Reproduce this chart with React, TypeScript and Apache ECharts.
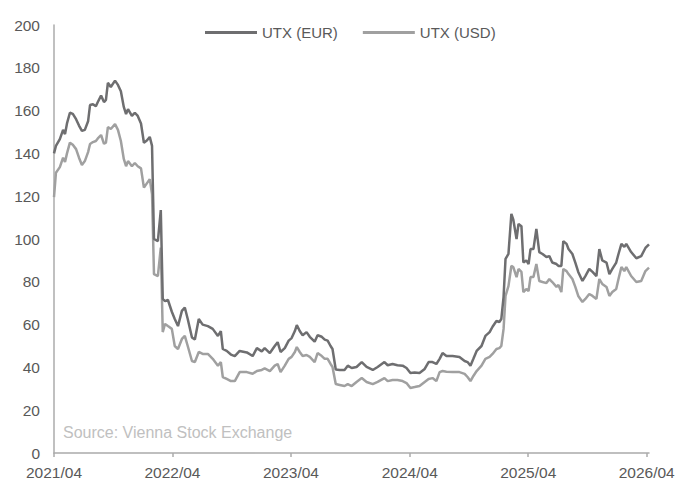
import React, { useEffect, useRef } from "react";
import * as echarts from "echarts";

const dates: string[] = [
  "2021-04-01","2021-04-07","2021-04-19","2021-04-29","2021-05-05","2021-05-11","2021-05-20","2021-05-29",
  "2021-06-08","2021-06-17","2021-06-26","2021-07-05","2021-07-15","2021-07-21","2021-07-30","2021-08-08",
  "2021-08-14","2021-08-24","2021-09-02","2021-09-08","2021-09-14","2021-09-23","2021-10-06","2021-10-15",
  "2021-10-24","2021-11-02","2021-11-09","2021-11-15","2021-11-27","2021-12-06","2021-12-15","2021-12-25",
  "2022-01-03","2022-01-12","2022-01-21","2022-01-28","2022-02-03","2022-02-15","2022-02-24","2022-03-02",
  "2022-03-09","2022-03-18","2022-03-30","2022-04-08","2022-04-18","2022-04-30","2022-05-09","2022-05-18",
  "2022-05-31","2022-06-09","2022-06-21","2022-07-03","2022-07-19","2022-08-03","2022-08-19","2022-08-28",
  "2022-09-03","2022-09-15","2022-09-28","2022-10-10","2022-10-25","2022-11-16","2022-12-04","2022-12-17",
  "2023-01-01","2023-01-10","2023-01-26","2023-02-10","2023-02-19","2023-02-28","2023-03-13","2023-03-25",
  "2023-04-03","2023-04-13","2023-04-19","2023-04-28","2023-05-07","2023-05-19","2023-05-29","2023-06-13",
  "2023-06-22","2023-07-05","2023-07-14","2023-07-23","2023-08-01","2023-08-07","2023-08-17","2023-08-29",
  "2023-09-13","2023-09-23","2023-10-05","2023-10-20","2023-11-05","2023-11-20","2023-12-09","2023-12-24",
  "2024-01-14","2024-01-24","2024-02-08","2024-02-23","2024-03-10","2024-03-22","2024-04-03","2024-04-16",
  "2024-05-01","2024-05-17","2024-05-29","2024-06-10","2024-06-22","2024-07-02","2024-07-11","2024-07-23",
  "2024-08-11","2024-09-01","2024-09-17","2024-09-26","2024-10-05","2024-10-14","2024-10-24","2024-11-08",
  "2024-11-20","2024-12-03","2024-12-12","2024-12-24","2025-01-02","2025-01-08","2025-01-15","2025-01-21",
  "2025-01-30","2025-02-08","2025-02-14","2025-02-24","2025-03-02","2025-03-11","2025-03-17","2025-03-26",
  "2025-04-02","2025-04-08","2025-04-17","2025-04-26","2025-05-05","2025-05-15","2025-05-27","2025-06-05",
  "2025-06-14","2025-06-27","2025-07-03","2025-07-12","2025-07-18","2025-07-28","2025-08-03","2025-08-15",
  "2025-08-24","2025-09-02","2025-09-15","2025-09-24","2025-10-06","2025-10-16","2025-10-28","2025-11-06",
  "2025-11-15","2025-11-28","2025-12-07","2025-12-16","2025-12-28","2026-01-04","2026-01-13","2026-01-22",
  "2026-01-28","2026-02-12","2026-02-28","2026-03-15","2026-03-28","2026-04-08"
];

const utxEur: number[] = [
  140, 143.5, 146.7, 151, 149, 154, 159, 158.5,
  156, 153, 150.5, 151, 155, 162.6, 163, 162,
  164, 167, 164, 165, 173, 171, 174, 172,
  169, 161.7, 158.4, 160.7, 157.5, 159, 157.5, 154,
  145, 146, 147.7, 143.5, 100, 99, 113.5, 72,
  71, 71.5, 66, 62.6, 59.3, 66.4, 68, 62.6,
  54, 53, 62.6, 60, 59.3, 58, 54.7, 57,
  48.6, 47.7, 46, 45.3, 47.7, 47, 45.3, 49,
  47.5, 49, 46.7, 50, 51.8, 47.2, 49, 52.5,
  53.7, 57, 59.8, 57, 55, 56.5, 54.3, 52,
  55, 54.3, 53, 52.5, 50, 48.6, 39, 38.8,
  38.8, 40.8, 39.7, 40.2, 42.5, 40.2, 38.8, 40.2,
  42.5, 41, 41.6, 41, 40.8, 39.7, 37.4, 37.6,
  37.4, 39.3, 42.5, 42.5, 41.6, 44, 46.7, 45.3,
  45.3, 44.9, 43, 42.5, 40.8, 44, 47.7, 50,
  54.7, 56.5, 59, 61.7, 61.2, 62.6, 73, 90.7,
  93, 111.7, 109, 100, 107, 106, 89, 90,
  88.3, 95.3, 95.3, 104.7, 93.9, 93, 91.6, 92,
  89, 88.3, 87.4, 87.4, 99, 97.7, 95.3, 93,
  89, 84.6, 80.4, 82.7, 86, 84.6, 82.7, 95.3,
  90, 89, 83.6, 86, 89, 93, 97.7, 96.3,
  97.7, 93.9, 91, 92, 95.8, 97.5
];

const utxUsd: number[] = [
  119.6, 131, 133.6, 138, 136, 140, 145, 144,
  142, 138, 134.6, 136.4, 140.6, 144.4, 145.3, 145.8,
  147, 148.6, 144.5, 145, 152.3, 151.4, 153.7, 151,
  145.8, 137.4, 134, 136.4, 134, 135.5, 134, 133,
  124, 126, 128, 121, 83.6, 82.7, 96, 56.5,
  60.3, 59.3, 58, 50, 48.6, 53.3, 54.7, 50,
  43, 42.5, 47.2, 46.3, 46.3, 44, 40.8, 42.5,
  35.5, 34.6, 33.6, 33.6, 37.8, 37.8, 37, 38.3,
  38.8, 39.5, 38.3, 40.8, 41.6, 37.8, 40.8, 44,
  44.9, 47.2, 49.5, 47.2, 45.3, 45.8, 44.9, 42.5,
  46.7, 45.3, 44, 44, 41.6, 40.2, 32.2, 31.8,
  31.3, 32.2, 31.3, 33.2, 35, 33.2, 32.2, 33.2,
  35, 33.6, 34.1, 34.1, 33.6, 32.7, 30.4, 30.8,
  31.3, 33.2, 34.6, 35, 33.6, 37.8, 38.3, 38,
  37.8, 37.8, 37, 35.5, 33.6, 36, 38.3, 40.8,
  44, 44.9, 46.3, 48.6, 49, 50, 58, 73.4,
  78, 87.4, 86.9, 82.2, 86, 84.6, 75.2, 76.6,
  75.7, 82.2, 82.2, 88.3, 80.4, 79.9, 79.4, 81.3,
  79.9, 77.6, 78.5, 75.2, 86, 85, 83.6, 81.3,
  77.6, 73.4, 70.6, 72, 74.3, 73.4, 72, 81.3,
  79, 77.6, 73.4, 75.2, 76.6, 81.3, 86.9, 85,
  86.9, 82.7, 79.9, 80.4, 85, 86.6
];

const tickDates: string[] = ["2021-04-01", "2022-04-01", "2023-04-01", "2024-04-01", "2025-04-01", "2026-04-01"];
const seriesNames: string[] = ["UTX (EUR)", "UTX (USD)"];
const axisStart = "2021-04-01";
const axisEnd = "2026-04-08";
const sourceText = "Source: Vienna Stock Exchange";

function ts(s: string): number {
  const [y, m, d] = s.split("-").map(Number);
  return Date.UTC(y, m - 1, d);
}

function fmt(v: number): string {
  const d = new Date(v);
  const m = d.getUTCMonth() + 1;
  return d.getUTCFullYear() + "/" + (m < 10 ? "0" + m : "" + m);
}

export default function App() {
  const ref = useRef<HTMLDivElement>(null);
  useEffect(() => {
    if (!ref.current) return;
    const chart = echarts.init(ref.current, null, { renderer: "svg" });
    const font = "'Liberation Sans', Arial, sans-serif";
    const labelColor = "#595959";
    const axisColor = "#ababab";
    const tickVals = tickDates.map(ts);
    chart.setOption({
      animation: false,
      backgroundColor: "#ffffff",
      textStyle: { fontFamily: font },
      grid: { left: 54, right: 29, top: 25, bottom: 27, containLabel: false },
      legend: {
        left: 205,
        top: 25,
        padding: 0,
        icon: "rect",
        itemWidth: 52,
        itemHeight: 3,
        itemGap: 25,
        textStyle: { fontSize: 15, color: labelColor, fontFamily: font },
        data: seriesNames,
      },
      xAxis: {
        type: "value",
        min: ts(axisStart),
        max: ts(axisEnd),
        scale: true,
        splitLine: { show: false },
        axisLine: { show: true, lineStyle: { color: axisColor, width: 1.5 } },
        axisTick: {
          show: true,
          length: 4,
          lineStyle: { color: axisColor, width: 1.5 },
          customValues: tickVals,
        },
        axisLabel: {
          fontSize: 15.5,
          color: labelColor,
          margin: 11,
          fontFamily: font,
          customValues: tickVals,
          formatter: (v: number) => fmt(v),
          showMinLabel: true,
          showMaxLabel: true,
        },
      },
      yAxis: {
        type: "value",
        min: 0,
        max: 200,
        interval: 20,
        splitLine: { show: false },
        axisLine: { show: true, lineStyle: { color: axisColor, width: 1.5 } },
        axisTick: { show: false },
        axisLabel: { fontSize: 15.5, color: labelColor, margin: 14, fontFamily: font },
      },
      graphic: [
        {
          type: "text",
          left: 63,
          top: 424,
          style: { text: sourceText, fontSize: 16, fill: "#c0c0c0", fontFamily: font },
        },
      ],
      series: [
        {
          name: seriesNames[1],
          type: "line",
          showSymbol: false,
          symbol: "none",
          data: dates.map((d, i) => [ts(d), utxUsd[i]]),
          lineStyle: { color: "#a0a0a0", width: 2.5 },
          itemStyle: { color: "#a0a0a0" },
          z: 2,
        },
        {
          name: seriesNames[0],
          type: "line",
          showSymbol: false,
          symbol: "none",
          data: dates.map((d, i) => [ts(d), utxEur[i]]),
          lineStyle: { color: "#6e6e70", width: 2.5 },
          itemStyle: { color: "#6e6e70" },
          z: 3,
        },
      ],
    });
    return () => chart.dispose();
  }, []);
  return <div ref={ref} style={{ width: 678, height: 480, position: "absolute", left: 0, top: 0 }} />;
}
